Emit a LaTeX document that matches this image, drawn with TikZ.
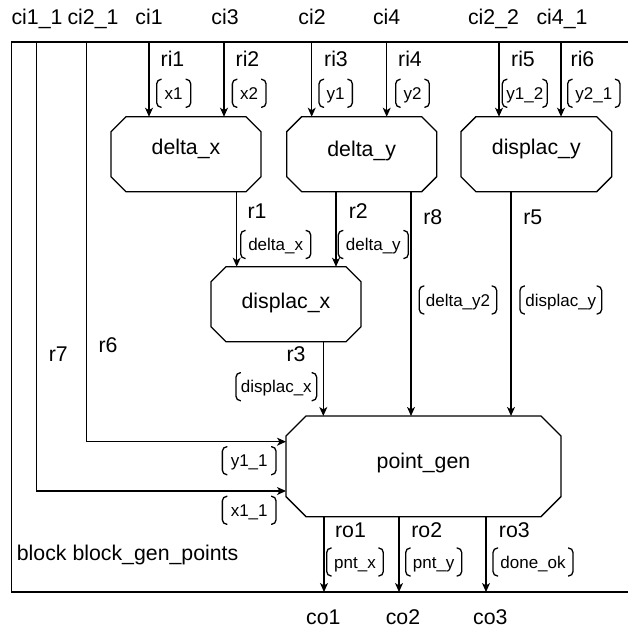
\documentclass[tikz,border=0pt]{standalone}
\usepackage{fontspec}
\setmainfont{Liberation Sans}
\usetikzlibrary{arrows.meta,calc}

\newcommand\mainsize{\fontsize{21.3}{25}\selectfont}
\newcommand\tagsize{\fontsize{17}{20}\selectfont}

% octagonal outline around a named rectangle node, #2 = size of the cut corners
\newcommand\chamferbox[2]{%
  \draw[boxline]
    ($(#1.north west)+(#2,0)$) -- ($(#1.north east)+(-#2,0)$)
    -- ($(#1.north east)+(0,#2)$) -- ($(#1.south east)+(0,-#2)$)
    -- ($(#1.south east)+(-#2,0)$) -- ($(#1.south west)+(#2,0)$)
    -- ($(#1.south west)+(0,-#2)$) -- ($(#1.north west)+(0,#2)$) -- cycle;}

% rounded square brackets on both sides of a named tag node
\newcommand\bracketpair[1]{%
  \draw[line width=1.3pt,rounded corners=4.5pt]
    ($(#1.north west)+(5,0)$) -- (#1.north west) -- (#1.south west) -- ($(#1.south west)+(5,0)$)
    ($(#1.north east)+(-5,0)$) -- (#1.north east) -- (#1.south east) -- ($(#1.south east)+(-5,0)$);}

\begin{document}
\begin{tikzpicture}[x=1pt,y=-1pt,
  wire/.style={line width=1.2pt},
  boxline/.style={line width=1.3pt},
  arr/.style={wire,-{Stealth[length=9pt,width=8pt,inset=2.5pt]}},
  lbl/.style={font=\mainsize,anchor=base,inner sep=0pt},
  blk/.style={rectangle,outer sep=0pt,inner sep=0pt,font=\mainsize},
  tag/.style={font=\tagsize,rectangle,inner sep=0pt,outer sep=0pt,
    minimum height=28pt,text height=12pt,text depth=0pt}]

\useasboundingbox[fill=white] (0,0) rectangle (627,628);

% enclosing block frame (open to the right)
\coordinate (ftl) at (11.5,42);
\coordinate (fbl) at (11.5,592);
\coordinate (ftr) at (640,42);
\coordinate (fbr) at (640,592);
\draw[line width=1.5pt] (ftr) -- (ftl) -- (fbl) -- (fbr);

% port names
\node[lbl] (ci11) at (37,25)    {ci1\_1};
\node[lbl] (ci21) at (93,25)    {ci2\_1};
\node[lbl] (ci1)  at (149,25)   {ci1};
\node[lbl] (ci3)  at (225,25)   {ci3};
\node[lbl] (ci2)  at (312,25)   {ci2};
\node[lbl] (ci4)  at (386.7,25) {ci4};
\node[lbl] (ci22) at (493.5,25) {ci2\_2};
\node[lbl] (ci41) at (562,25)   {ci4\_1};
\node[lbl] (co1)  at (323.3,624) {co1};
\node[lbl] (co2)  at (403,624)   {co2};
\node[lbl] (co3)  at (490.3,624) {co3};
\node[lbl,anchor=base west] (blkname) at (16.7,560) {block block\_gen\_points};

% processing blocks
\node[blk,minimum width=150pt,minimum height=75pt,text height=8pt,text depth=8pt]
  (dx) at (186,154.2) {delta\_x};
\node[blk,minimum width=150pt,minimum height=75pt,text height=10.5pt,text depth=5.5pt]
  (dy) at (361.7,154.2) {delta\_y};
\node[blk,minimum width=150.7pt,minimum height=75pt,text height=8pt,text depth=8pt]
  (dsy) at (536.3,154.2) {displac\_y};
\node[blk,minimum width=150pt,minimum height=75pt,text height=12pt,text depth=4pt]
  (dsx) at (286,304.2) {displac\_x};
\node[blk,minimum width=275pt,minimum height=100.7pt,text height=10pt,text depth=6pt]
  (pg) at (423.5,466.3) {point\_gen};
\chamferbox{dx}{15}
\chamferbox{dy}{15}
\chamferbox{dsy}{15}
\chamferbox{dsx}{15}
\chamferbox{pg}{20}

% wire positions
\coordinate (t-ci11) at (36.7,42);
\coordinate (t-ci21) at (86.7,42);
\coordinate (t-ci1)  at (149,42);
\coordinate (t-ci3)  at (224,42);
\coordinate (t-ci2)  at (311.7,42);
\coordinate (t-ci4)  at (386.7,42);
\coordinate (t-ci22) at (499,42);
\coordinate (t-ci41) at (561,42);
\coordinate (x-r1) at (236.7,0);
\coordinate (x-r2) at (336,0);
\coordinate (x-r8) at (411,0);
\coordinate (x-r5) at (511,0);
\coordinate (x-r3) at (323.3,0);
\coordinate (in-r6) at (286,441.7);
\coordinate (in-r7) at (286,491);
\coordinate (b-co1) at (324,592);
\coordinate (b-co2) at (399,592);
\coordinate (b-co3) at (486,592);

% input wires
\draw[arr] (t-ci1)  -- (t-ci1 |- dx.north);
\draw[arr] (t-ci3)  -- (t-ci3 |- dx.north);
\draw[arr] (t-ci2)  -- (t-ci2 |- dy.north);
\draw[arr] (t-ci4)  -- (t-ci4 |- dy.north);
\draw[arr] (t-ci22) -- (t-ci22 |- dsy.north);
\draw[arr] (t-ci41) -- (t-ci41 |- dsy.north);
\draw[arr] (t-ci21) |- (in-r6);
\draw[arr] (t-ci11) |- (in-r7);

% internal wires
\draw[arr] (x-r1 |- dx.south) -- (x-r1 |- dsx.north);
\draw[arr] (x-r2 |- dy.south) -- (x-r2 |- dsx.north);
\draw[arr] (x-r8 |- dy.south) -- (x-r8 |- pg.north);
\draw[arr] (x-r5 |- dsy.south) -- (x-r5 |- pg.north);
\draw[arr] (x-r3 |- dsx.south) -- (x-r3 |- pg.north);

% output wires
\draw[arr] (b-co1 |- pg.south) -- (b-co1);
\draw[arr] (b-co2 |- pg.south) -- (b-co2);
\draw[arr] (b-co3 |- pg.south) -- (b-co3);

% wire names
\node[lbl] (ri1) at (172.5,66.7) {ri1};
\node[lbl] (ri2) at (247.5,66.7) {ri2};
\node[lbl] (ri3) at (336,66.7)   {ri3};
\node[lbl] (ri4) at (410,66.7)   {ri4};
\node[lbl] (ri5) at (523,66.7)   {ri5};
\node[lbl] (ri6) at (582.5,66.7) {ri6};
\node[lbl] (r1) at (257,218.3)   {r1};
\node[lbl] (r2) at (358.3,218.3) {r2};
\node[lbl] (r8) at (432.8,225)   {r8};
\node[lbl] (r5) at (532.8,225)   {r5};
\node[lbl] (r3) at (296,361.7)   {r3};
\node[lbl] (r6) at (108,352.7)   {r6};
\node[lbl] (r7) at (58.3,361)    {r7};
\node[lbl] (ro1) at (350.5,537.3) {ro1};
\node[lbl] (ro2) at (426.7,537.3) {ro2};
\node[lbl] (ro3) at (514.3,537.3) {ro3};

% signal tags
\node[tag,minimum width=34pt]   (tx1)  at (173.7,93.3) {x1};
\node[tag,minimum width=33.7pt] (tx2)  at (249.2,93.3) {x2};
\node[tag,minimum width=33.3pt] (ty1)  at (335.7,93.3) {y1};
\node[tag,minimum width=33.6pt] (ty2)  at (412.5,93.3) {y2};
\node[tag,minimum width=45pt]   (ty12) at (524.8,93.3) {y1\_2};
\node[tag,minimum width=52.3pt] (ty21) at (593.8,93.3) {y2\_1};
\node[tag,minimum width=70pt]   (tdx)  at (275.7,244.5) {delta\_x};
\node[tag,minimum width=70pt]   (tdy)  at (373.3,244.5) {delta\_y};
\node[tag,minimum width=77.4pt] (tdy2) at (458,300) {delta\_y2};
\node[tag,minimum width=81.7pt] (tdsy) at (560.8,300) {displac\_y};
\node[tag,minimum width=80.7pt] (tdsx) at (276.3,386.7) {displac\_x};
\node[tag,minimum width=53.7pt] (ty11) at (249.2,460.7) {y1\_1};
\node[tag,minimum width=53.7pt] (tx11) at (249.2,510.3) {x1\_1};
\node[tag,minimum width=56.6pt] (tpx)  at (355,562) {pnt\_x};
\node[tag,minimum width=56pt]   (tpy)  at (433.7,562) {pnt\_y};
\node[tag,minimum width=80pt]   (tok)  at (533,562) {done\_ok};
\foreach \t in {tx1,tx2,ty1,ty2,ty12,ty21,tdx,tdy,tdy2,tdsy,tdsx,ty11,tx11,tpx,tpy,tok}
  {\bracketpair{\t}}

\end{tikzpicture}
\end{document}
